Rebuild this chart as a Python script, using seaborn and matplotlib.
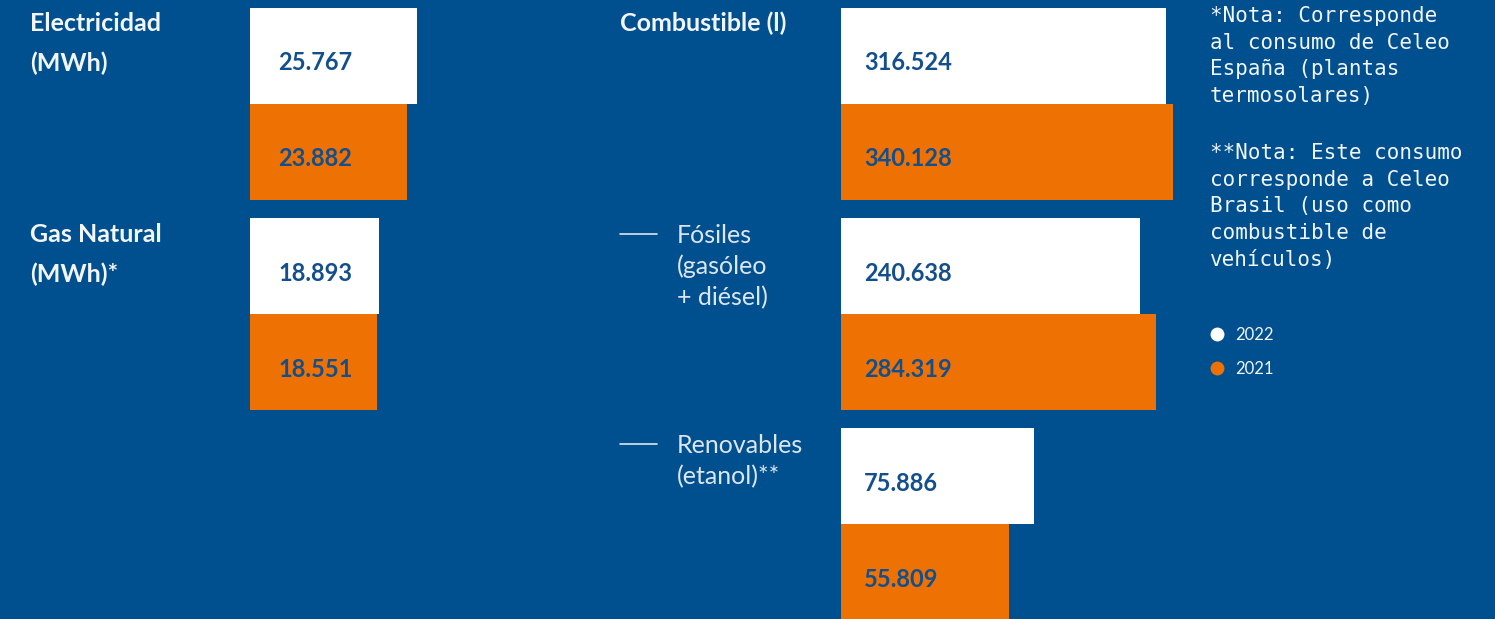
"""
Consumo energético 2022 vs 2021 — bar infographic on a blue background.
"""

import numpy as np
import pandas as pd
import matplotlib
import matplotlib.pyplot as plt
from matplotlib.lines import Line2D
import seaborn as sns

matplotlib.use('Agg')

# ──────────────────────────────────────────────────────────────
# Data
# ──────────────────────────────────────────────────────────────

years = ['2022', '2021']

left_cats = ['Electricidad', 'Gas Natural']
left_2022 = [25767, 18893]
left_2021 = [23882, 18551]

right_cats = ['Combustible', 'Fósiles', 'Renovables']
right_2022 = [316524, 240638, 75886]
right_2021 = [340128, 284319, 55809]

note_1 = ['*Nota: Corresponde', 'al consumo de Celeo', 'España (plantas', 'termosolares)']
note_2 = ['**Nota: Este consumo', 'corresponde a Celeo', 'Brasil (uso como',
          'combustible de', 'vehículos)']

# ──────────────────────────────────────────────────────────────
# Style
# ──────────────────────────────────────────────────────────────

BG = '#00508F'
ORANGE = '#EE7203'
VALUE_BLUE = '#134F8C'
TEXT = '#F2F5F9'
PALETTE = {'2022': '#FFFFFF', '2021': ORANGE}

sns.set_theme(style='white')
plt.rcParams['font.family'] = ['Lato', 'DejaVu Sans']

W, H = 1495, 619
fig = plt.figure(figsize=(W / 100, H / 100), dpi=100, facecolor=BG)


def fx(x):
    return x / W


def fy(y):
    return 1 - y / H


def to_long(cats, v22, v21):
    return pd.DataFrame({
        'cat': cats * 2,
        'year': ['2022'] * len(cats) + ['2021'] * len(cats),
        'value': v22 + v21,
    })


def draw_panel(ax, cats, v22, v21, c, ref_px, width_px, label_dx):
    """Horizontal paired bars on a compressed (log1p) value scale."""
    df = to_long(cats, v22, v21)
    sns.barplot(data=df, x='value', y='cat', hue='year', hue_order=years,
                palette=PALETTE, orient='h', width=0.914, saturation=1,
                errorbar=None, linewidth=0, legend=False, ax=ax)

    def fwd(x):
        return np.log1p(np.clip(np.asarray(x, dtype=float), 0, None) / c)

    def inv(y):
        return c * np.expm1(np.asarray(y, dtype=float))

    ax.set_xscale('function', functions=(fwd, inv))
    vmax = max(v22 + v21)
    ax.set_xlim(0, float(inv(fwd(vmax) * width_px / ref_px)))
    ax.set_ylim(2.452, -0.495)
    ax.axis('off')

    for bar in ax.patches:
        v = int(round(bar.get_width()))
        ax.annotate(f'{v:,}'.replace(',', '.'),
                    xy=(bar.get_x(), bar.get_y() + bar.get_height() / 2),
                    xytext=(label_dx, -7), textcoords='offset pixels',
                    ha='left', va='center', fontsize=17, fontweight='bold',
                    color=VALUE_BLUE)


def put_lines(lines, x, y0, step, **kw):
    for i, line in enumerate(lines):
        fig.text(fx(x), fy(y0 + i * step), line, va='baseline', ha='left', **kw)


# ──────────────────────────────────────────────────────────────
# Panels
# ──────────────────────────────────────────────────────────────

ax_left = fig.add_axes([fx(250), 0, fx(350), 1])
ax_left.set_facecolor('none')
draw_panel(ax_left, left_cats, left_2022, left_2021,
           c=50000, ref_px=167, width_px=350, label_dx=28)

ax_right = fig.add_axes([fx(841), 0, fx(359), 1])
ax_right.set_facecolor('none')
draw_panel(ax_right, right_cats, right_2022, right_2021,
           c=13000, ref_px=332, width_px=359, label_dx=23)

# category labels
bold = dict(fontsize=18, fontweight='bold', color=TEXT)
light = dict(fontsize=18, color='#DCE6F0')
put_lines(['Electricidad', '(MWh)'], 30, 31, 40, **bold)
put_lines(['Gas Natural', '(MWh)*'], 30, 242, 40, **bold)
put_lines(['Combustible (l)'], 620, 31, 40, **bold)
put_lines(['Fósiles', '(gasóleo', '+ diésel)'], 677, 243, 31, **light)
put_lines(['Renovables', '(etanol)**'], 677, 453, 31, **light)

for y in (234, 444):
    fig.add_artist(Line2D([fx(620), fx(657)], [fy(y), fy(y)],
                          color='#DCE6F0', linewidth=1.2))

# notes
mono = dict(fontsize=15, family='DejaVu Sans Mono', color=TEXT)
put_lines(note_1, 1210, 22, 26.7, **mono)
put_lines(note_2, 1210, 159, 26.7, **mono)

# legend
handles = [Line2D([], [], marker='o', linestyle='', markersize=10,
                  markerfacecolor=PALETTE[y], markeredgewidth=0) for y in years]
fig.legend(handles, years, loc='upper left', bbox_to_anchor=(fx(1209), fy(327)),
           frameon=False, fontsize=12, labelcolor=TEXT, handlelength=1,
           handletextpad=0.6, labelspacing=1.05, borderaxespad=0, borderpad=0)

fig.savefig('out.png', dpi=100, facecolor=BG)
